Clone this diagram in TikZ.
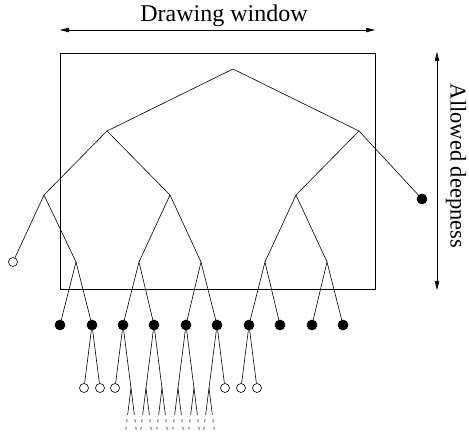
\documentclass[tikz,border=0pt]{standalone}
\usepackage{fontspec}
\setmainfont{Liberation Serif}
\usetikzlibrary{arrows.meta}

\begin{document}
\begin{tikzpicture}[x=1pt, y=-1pt, line width=0.6pt,
  every node/.style={font=\fontsize{24}{28}\selectfont},
  fulldot/.style={circle, draw, fill=black, inner sep=0pt, minimum size=10pt},
  emptydot/.style={circle, draw, fill=white, inner sep=0pt, minimum size=9pt},
  fadeline/.style={dash pattern=on 27pt off 4.5pt on 3pt off 4.5pt on 3pt off 5pt},
  span/.style={{Triangle[length=9pt,width=4.5pt]}-{Triangle[length=9pt,width=4.5pt]}}]
  \useasboundingbox (0,0) rectangle (469,435);

  % Drawing window
  \node[draw, inner sep=0pt, minimum width=315pt, minimum height=236pt] (window) at (217.5,171) {};
  \coordinate (wleft) at (60,30);
  \coordinate (wright) at (375,30);
  \draw[span] (wleft) -- (wright);
  \node[anchor=base] (wlabel) at (224,22) {Drawing window};

  % Allowed deepness
  \coordinate (dtop) at (437,52);
  \coordinate (dbot) at (437,290);
  \draw[span] (dtop) -- (dbot);
  \node[rotate=-90, font=\fontsize{22.5}{27}\selectfont] (dlabel) at (456,166) {Allowed deepness};

  % Tree, levels 0 to 3
  \coordinate (r) at (233,69);
  \coordinate (a) at (107,131);
  \coordinate (b) at (359,131);
  \coordinate (aa) at (44,195);
  \coordinate (ab) at (170,195);
  \coordinate (ba) at (296,195);
  \node[fulldot] (bb) at (422,199) {};
  \node[emptydot] (aaa) at (13,262) {};
  \coordinate (aab) at (76,262);
  \coordinate (aba) at (139,262);
  \coordinate (abb) at (201,262);
  \coordinate (baa) at (265,262);
  \coordinate (bab) at (327,262);

  \draw (a) -- (r) -- (b);
  \draw (aa) -- (a) -- (ab);
  \draw (ba) -- (b) -- (bb);
  \draw (aaa) -- (aa) -- (aab);
  \draw (aba) -- (ab) -- (abb);
  \draw (baa) -- (ba) -- (bab);

  % Level 4
  \node[fulldot] (aaba) at (60,325) {};
  \node[fulldot] (aabb) at (92,325) {};
  \node[fulldot] (abaa) at (123,325) {};
  \node[fulldot] (abab) at (154,325) {};
  \node[fulldot] (abba) at (186,325) {};
  \node[fulldot] (abbb) at (217,325) {};
  \node[fulldot] (baaa) at (249,325) {};
  \node[fulldot] (baab) at (280,325) {};
  \node[fulldot] (baba) at (312,325) {};
  \node[fulldot] (babb) at (343,325) {};

  \draw (aaba) -- (aab) -- (aabb);
  \draw (abaa) -- (aba) -- (abab);
  \draw (abba) -- (abb) -- (abbb);
  \draw (baaa) -- (baa) -- (baab);
  \draw (baba) -- (bab) -- (babb);

  % Level 5
  \node[emptydot] (aabba) at (84,388) {};
  \node[emptydot] (aabbb) at (100,388) {};
  \node[emptydot] (abaaa) at (115,388) {};
  \coordinate (abaab) at (131,388);
  \coordinate (ababa) at (146,388);
  \coordinate (ababb) at (162,388);
  \coordinate (abbaa) at (178,388);
  \coordinate (abbab) at (194,388);
  \coordinate (abbba) at (209,388);
  \node[emptydot] (abbbb) at (225,388) {};
  \node[emptydot] (baaaa) at (241,388) {};
  \node[emptydot] (baaab) at (257,388) {};

  \draw (aabba) -- (aabb) -- (aabbb);
  \draw (abaaa) -- (abaa) -- (abaab);
  \draw (ababa) -- (abab) -- (ababb);
  \draw (abbaa) -- (abba) -- (abbab);
  \draw (abbba) -- (abbb) -- (abbbb);
  \draw (baaaa) -- (baaa) -- (baaab);

  % Level 6, fading out
  \coordinate (abaaba) at (125.5,432);
  \coordinate (abaabb) at (136.5,432);
  \coordinate (ababaa) at (140.5,432);
  \coordinate (ababab) at (151.5,432);
  \coordinate (ababba) at (156.5,432);
  \coordinate (ababbb) at (167.5,432);
  \coordinate (abbaaa) at (172.5,432);
  \coordinate (abbaab) at (183.5,432);
  \coordinate (abbaba) at (188.5,432);
  \coordinate (abbabb) at (199.5,432);
  \coordinate (abbbaa) at (203.5,432);
  \coordinate (abbbab) at (214.5,432);

  \draw[fadeline] (abaab) -- (abaaba);
  \draw[fadeline] (abaab) -- (abaabb);
  \draw[fadeline] (ababa) -- (ababaa);
  \draw[fadeline] (ababa) -- (ababab);
  \draw[fadeline] (ababb) -- (ababba);
  \draw[fadeline] (ababb) -- (ababbb);
  \draw[fadeline] (abbaa) -- (abbaaa);
  \draw[fadeline] (abbaa) -- (abbaab);
  \draw[fadeline] (abbab) -- (abbaba);
  \draw[fadeline] (abbab) -- (abbabb);
  \draw[fadeline] (abbba) -- (abbbaa);
  \draw[fadeline] (abbba) -- (abbbab);
\end{tikzpicture}
\end{document}
